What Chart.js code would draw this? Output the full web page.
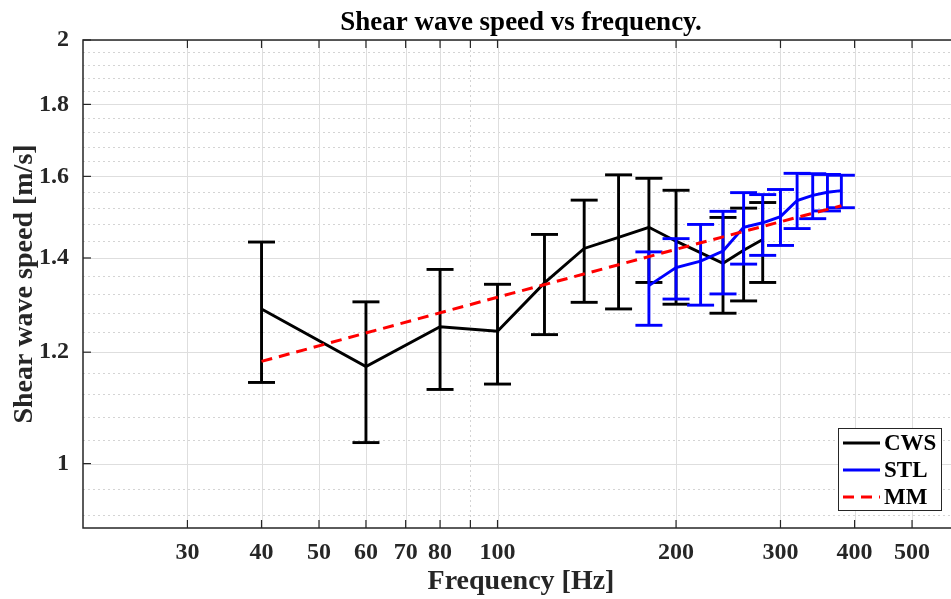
<!DOCTYPE html>
<html>
<head>
<meta charset="utf-8">
<script src="https://cdn.jsdelivr.net/npm/chart.js@4.4.1/dist/chart.umd.min.js"></script>
<style>
  html, body { margin: 0; padding: 0; background: #fff; overflow: hidden; }
  #wrap { position: absolute; left: 0; top: 0; width: 975px; height: 599px; }
</style>
</head>
<body>
<div id="wrap"><canvas id="myChart"></canvas></div>
<script>
// values
const freqCWS  = [40, 60, 80, 100, 120, 140, 160, 180, 200, 240, 260, 280];
const speedCWS = [1.288, 1.172, 1.251, 1.242, 1.344, 1.422, 1.448, 1.472, 1.439, 1.388, 1.418, 1.443];
const lowCWS   = [1.142, 1.035, 1.129, 1.139, 1.235, 1.302, 1.288, 1.345, 1.298, 1.279, 1.305, 1.345];
const highCWS  = [1.437, 1.303, 1.374, 1.341, 1.455, 1.539, 1.604, 1.595, 1.564, 1.496, 1.519, 1.533];

const freqSTL  = [180, 200, 220, 240, 260, 280, 300, 320, 340, 360, 380];
const speedSTL = [1.338, 1.378, 1.393, 1.416, 1.472, 1.483, 1.498, 1.538, 1.551, 1.559, 1.563];
const lowSTL   = [1.254, 1.309, 1.296, 1.320, 1.386, 1.406, 1.429, 1.469, 1.493, 1.512, 1.520];
const highSTL  = [1.414, 1.445, 1.479, 1.511, 1.558, 1.553, 1.566, 1.608, 1.607, 1.605, 1.603];

const freqMM  = [40, 100, 200, 380];
const speedMM = [1.182, 1.313, 1.42, 1.525];

const xTicks = [30, 40, 50, 60, 70, 80, 90, 100, 200, 300, 400, 500];
const xLabels = ['30', '40', '50', '60', '70', '80', '', '100', '200', '300', '400', '500'];
const xMinorTicks = [90];
const yTicks = [1, 1.2, 1.4, 1.6, 1.8, 2];
const yLabels = ['1', '1.2', '1.4', '1.6', '1.8', '2'];
const yMinorTicks = [0.92, 0.96, 1.04, 1.08, 1.12, 1.16, 1.24, 1.28, 1.32, 1.36, 1.44, 1.48,
                     1.52, 1.56, 1.64, 1.68, 1.72, 1.76, 1.84, 1.88, 1.92, 1.96];

const FONT = '"Liberation Serif", "Times New Roman", serif';
const AXIS = '#262626';

const pts = (xs, ys) => xs.map((v, i) => ({x: v, y: ys[i]}));

function hline(ctx, x1, y1, x2, y2) {
    ctx.beginPath();
    ctx.moveTo(x1, y1);
    ctx.lineTo(x2, y2);
    ctx.stroke();
}

// grid, frame and inside ticks like matlab
const gridPlugin = {
    id: 'matlabGrid',
    beforeDatasetsDraw(chart) {
        const {ctx, chartArea: a, scales: {x, y}} = chart;
        ctx.save();
        ctx.lineWidth = 1;
        ctx.strokeStyle = '#d4d4d4';
        ctx.setLineDash([2, 3]);
        yMinorTicks.forEach(v => {
            const p = Math.round(y.getPixelForValue(v)) + 0.5;
            hline(ctx, a.left, p, a.right, p);
        });
        xMinorTicks.forEach(v => {
            const p = Math.round(x.getPixelForValue(v)) + 0.5;
            hline(ctx, p, a.top, p, a.bottom);
        });
        ctx.setLineDash([]);
        ctx.strokeStyle = '#dedede';
        yTicks.forEach(v => {
            const p = Math.round(y.getPixelForValue(v)) + 0.5;
            hline(ctx, a.left, p, a.right, p);
        });
        xTicks.forEach((v, i) => {
            if (!xLabels[i]) return;
            const p = Math.round(x.getPixelForValue(v)) + 0.5;
            hline(ctx, p, a.top, p, a.bottom);
        });

        ctx.strokeStyle = AXIS;
        ctx.lineWidth = 1.5;
        ctx.strokeRect(a.left, a.top, a.right - a.left, a.bottom - a.top);
        ctx.lineWidth = 1.2;
        xTicks.forEach(v => {
            const p = x.getPixelForValue(v);
            hline(ctx, p, a.bottom, p, a.bottom - 8);
            hline(ctx, p, a.top, p, a.top + 8);
        });
        yTicks.forEach(v => {
            const p = y.getPixelForValue(v);
            hline(ctx, a.left, p, a.left + 8, p);
            hline(ctx, a.right, p, a.right - 8, p);
        });
        ctx.restore();
    }
};

// vertical error bars with caps, drawn right after each dataset
const errorBarPlugin = {
    id: 'errorBars',
    afterDatasetDraw(chart, args) {
        const ds = chart.data.datasets[args.index];
        if (!ds.errLow) return;
        const {ctx, scales: {x, y}} = chart;
        ctx.save();
        ctx.strokeStyle = ds.borderColor;
        ctx.lineWidth = 2.9;
        ds.data.forEach((d, i) => {
            const px = x.getPixelForValue(d.x);
            const lo = y.getPixelForValue(ds.errLow[i]);
            const hi = y.getPixelForValue(ds.errHigh[i]);
            hline(ctx, px, lo, px, hi);
            hline(ctx, px - 13.5, lo, px + 13.5, lo);
            hline(ctx, px - 13.5, hi, px + 13.5, hi);
        });
        ctx.restore();
    }
};

// title + boxed legend in the lower right corner
const decorPlugin = {
    id: 'decor',
    afterDraw(chart) {
        const {ctx, chartArea: a} = chart;
        ctx.save();
        ctx.fillStyle = '#000';
        ctx.font = 'bold 27px ' + FONT;
        ctx.textAlign = 'center';
        ctx.textBaseline = 'alphabetic';
        ctx.fillText('Shear wave speed vs frequency.', (a.left + a.right) / 2, 30);

        const bx = 838, by = 428, bw = 103, bh = 82;
        ctx.fillStyle = '#fff';
        ctx.fillRect(bx, by, bw, bh);
        ctx.strokeStyle = AXIS;
        ctx.lineWidth = 1;
        ctx.strokeRect(bx + 0.5, by + 0.5, bw, bh);
        ctx.font = 'bold 23px ' + FONT;
        ctx.textAlign = 'left';
        ctx.textBaseline = 'middle';
        chart.data.datasets.slice().reverse().forEach((ds, i) => {
            const ry = by + 15 + i * 27;
            ctx.strokeStyle = ds.borderColor;
            ctx.lineWidth = ds.borderWidth;
            ctx.setLineDash(ds.borderDash || []);
            hline(ctx, bx + 5, ry, bx + 42, ry);
            ctx.setLineDash([]);
            ctx.fillStyle = '#000';
            ctx.fillText(ds.label, bx + 46, ry + 1);
        });
        ctx.restore();
    }
};

const ctx = document.getElementById('myChart').getContext('2d');

const myChart = new Chart(ctx, {
    type: 'line',
    data: {
        datasets: [
            {
                label: 'MM',
                data: pts(freqMM, speedMM),
                borderColor: '#ff0000',
                borderWidth: 3,
                borderDash: [11, 7],
                pointRadius: 0,
                order: 1
            },
            {
                label: 'STL',
                data: pts(freqSTL, speedSTL),
                errLow: lowSTL,
                errHigh: highSTL,
                borderColor: '#0000ff',
                borderWidth: 2.9,
                pointRadius: 0,
                order: 2
            },
            {
                label: 'CWS',
                data: pts(freqCWS, speedCWS),
                errLow: lowCWS,
                errHigh: highCWS,
                borderColor: '#000000',
                borderWidth: 2.9,
                pointRadius: 0,
                order: 3
            }
        ]
    },
    options: {
        responsive: true,
        maintainAspectRatio: false,
        animation: false,
        layout: { padding: { top: 40, right: 16, left: 0, bottom: 0 } },
        plugins: {
            legend: { display: false },
            title: { display: false },
            tooltip: { enabled: false }
        },
        scales: {
            x: {
                type: 'logarithmic',
                min: 20,
                max: 600,
                afterBuildTicks: s => { s.ticks = xTicks.map(v => ({value: v})); },
                afterFit: s => { s.height = 71; },
                grid: { display: false },
                border: { display: false },
                ticks: {
                    autoSkip: false,
                    maxRotation: 0,
                    padding: 2,
                    color: AXIS,
                    font: { family: FONT, size: 24, weight: 'bold' },
                    callback: v => xLabels[xTicks.indexOf(v)] ?? ''
                },
                title: {
                    display: true,
                    text: 'Frequency [Hz]',
                    color: AXIS,
                    padding: 0,
                    font: { family: FONT, size: 28, weight: 'bold' }
                }
            },
            y: {
                type: 'logarithmic',
                min: 0.9,
                max: 2,
                afterBuildTicks: s => { s.ticks = yTicks.map(v => ({value: v})); },
                afterFit: s => { s.width = 83; },
                grid: { display: false },
                border: { display: false },
                ticks: {
                    autoSkip: false,
                    padding: 6,
                    color: AXIS,
                    font: { family: FONT, size: 24, weight: 'bold' },
                    callback: v => yLabels[yTicks.indexOf(v)] ?? ''
                },
                title: {
                    display: true,
                    text: 'Shear wave speed [m/s]',
                    color: AXIS,
                    padding: { top: 8, bottom: 0 },
                    font: { family: FONT, size: 28, weight: 'bold' }
                }
            }
        }
    },
    plugins: [gridPlugin, errorBarPlugin, decorPlugin]
});
</script>
</body>
</html>
